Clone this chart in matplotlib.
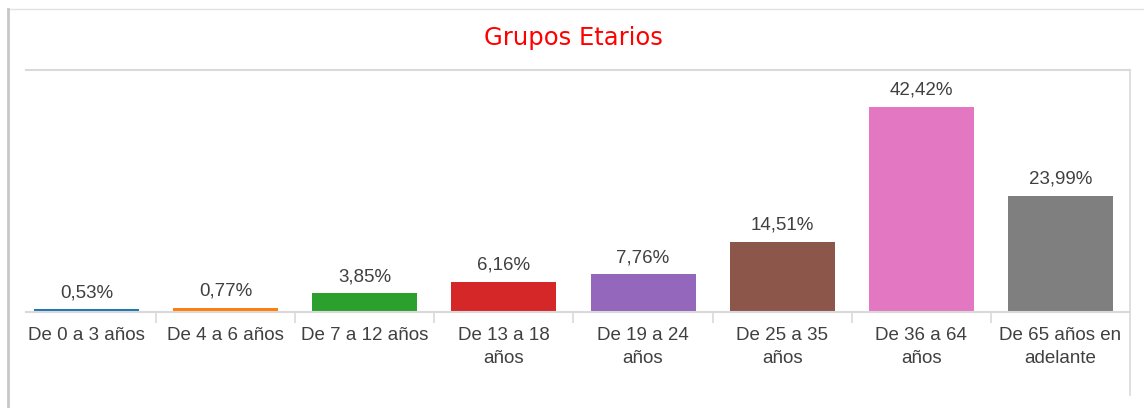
import matplotlib.pyplot as plt
from matplotlib.lines import Line2D

# Data
categorias = ["De 0 a 3 años", "De 4 a 6 años", "De 7 a 12 años", "De 13 a 18\naños",
              "De 19 a 24\naños", "De 25 a 35\naños", "De 36 a 64\naños",
              "De 65 años en\nadelante"]
porcentajes = [0.53, 0.77, 3.85, 6.16, 7.76, 14.51, 42.42, 23.99]
colores = ["#1f77b4", "#ff7f0e", "#2ca02c", "#d62728",
           "#9467bd", "#8c564b", "#e377c2", "#7f7f7f"]

W, H = 1144, 408
fig = plt.figure(figsize=(W / 100, H / 100), dpi=100)
font = ["Liberation Sans Narrow", "Liberation Sans", "DejaVu Sans"]
txt_color = "#404040"
frame = "#d9d9d9"

ax = fig.add_axes([26 / W, 1 - 312 / H, (1130 - 26) / W, (312 - 70) / H])
x = list(range(len(categorias)))
bars = ax.bar(x, porcentajes, width=0.755, color=colores)
ax.set_xlim(-0.435, 7.5)
ax.set_ylim(0, 50)

for b, v in zip(bars, porcentajes):
    ax.annotate(f"{v:.2f}%".replace(".", ","),
                (b.get_x() + b.get_width() / 2, b.get_height()),
                xytext=(0, 6), textcoords="offset points",
                ha="center", va="bottom", fontsize=13.5, family=font, color=txt_color)

ax.set_xticks(x)
ax.set_xticklabels(categorias, fontsize=13.5, family=font, color=txt_color,
                   linespacing=1.45)
ax.tick_params(axis="x", length=0, pad=11)
ax.set_xticks([i + 0.5 for i in range(len(categorias) - 1)], minor=True)
ax.tick_params(axis="x", which="minor", length=8, color=frame, width=1.2)
ax.set_yticks([])
ax.spines["left"].set_visible(False)
ax.spines["right"].set_visible(False)
for s in ["top", "bottom"]:
    ax.spines[s].set_color(frame)
    ax.spines[s].set_linewidth(1.5)

# outer frame lines
def fline(x0, y0, x1, y1, c, lw):
    fig.add_artist(Line2D([x0 / W, x1 / W], [1 - y0 / H, 1 - y1 / H],
                          color=c, linewidth=lw, transform=fig.transFigure))

fline(7, 9, W, 9, "#e3e3e3", 1)
fline(8, 9, 8, H, "#c8c8c8", 2)
fline(1130, 70, 1130, 395, frame, 1.2)

fig.text(573 / W, 1 - 38 / H, "Grupos Etarios", color="#ff0000", fontsize=17.5,
         ha="center", va="center", family="DejaVu Sans")

fig.savefig("out.png", dpi=100, facecolor="white")
